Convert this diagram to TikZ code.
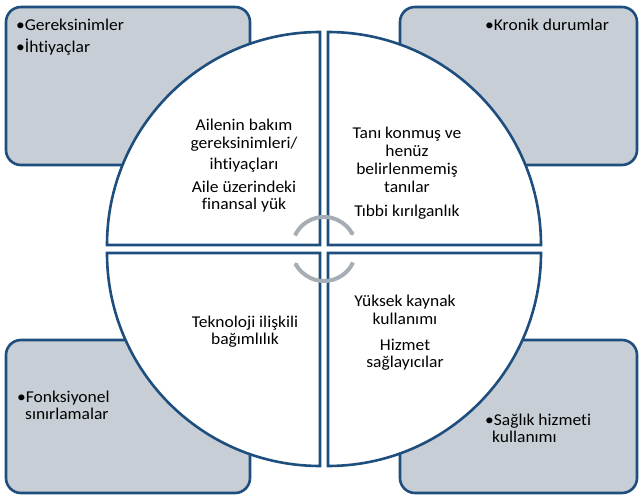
\documentclass[tikz,border=0pt]{standalone}
\usepackage{fontspec}
\setmainfont{Carlito}[FakeStretch=1.06, Ligatures=NoCommon]
\usetikzlibrary{arrows.meta}
\definecolor{rimblue}{RGB}{29,78,125}
\definecolor{cardgray}{RGB}{200,206,213}
\definecolor{cyclegray}{RGB}{166,173,181}

\begin{document}
\begin{tikzpicture}[x=1pt, y=1pt,
		card/.style={draw=rimblue, line width=2.6pt, fill=cardgray, rounded corners=15pt},
		quarter/.style={draw=rimblue, line width=2.6pt, fill=white},
		cyc/.style={draw=cyclegray, line width=4pt, -{Stealth[length=3pt, width=6pt, inset=1pt]}},
		midtext/.style={align=center, anchor=base, inner sep=0pt, font=\fontsize{16.5}{17.8}\selectfont},
		sidetext/.style={align=left, anchor=base west, inner sep=0pt, font=\fontsize{16.5}{17.8}\selectfont}]
			%%%%% START %%%%%
			\useasboundingbox (0,0) rectangle (641,496);
			
			% corner cards
			\draw[card] (6,331) rectangle (250,489);
			\draw[card] (400,331) rectangle (637,489);
			\draw[card] (6,3) rectangle (250,156);
			\draw[card] (400,3) rectangle (637,156);
			
			% four quarters of the disc
			\draw[quarter] (320,251) -- (107,251) arc (180:90:213) -- cycle;
			\draw[quarter] (328,251) -- (328,464) arc (90:0:213) -- cycle;
			\draw[quarter] (320,243) -- (320,30) arc (270:180:213) -- cycle;
			\draw[quarter] (328,243) -- (541,243) arc (0:-90:213) -- cycle;
			
			% cycle arrows in the middle
			\coordinate (hub) at (324,247);
			\draw[cyc] (hub) ++(155:32) arc (155:25:32);
			\draw[cyc] (hub) ++(-25:32) arc (-25:-155:32);
			
			% quarter texts (base = last line)
			\node[midtext] (care) at (244,286) {Ailenin bakım\\gereksinimleri/\\[3pt]ihtiyaçları\\[5pt]Aile üzerindeki\\finansal yük};
			\node[midtext] (diag) at (407,279) {Tanı konmuş ve\\henüz\\belirlenmemiş\\tanılar\\[7pt]Tıbbi kırılganlık};
			\node[midtext] (tech) at (245,151) {Teknoloji ilişkili\\bağımlılık};
			\node[midtext] (use) at (405,128) {Yüksek kaynak\\kullanımı\\[8pt]Hizmet\\sağlayıcılar};
			
			% card texts
			\node[sidetext] (needs) at (16,443) {•Gereksinimler\\[5pt]•İhtiyaçlar};
			\node[sidetext] (chronic) at (485,465) {•Kronik durumlar};
			\node[sidetext] (func) at (17,76) {•Fonksiyonel\\\hspace*{8pt}sınırlamalar};
			\node[sidetext] (health) at (485,53) {•Sağlık hizmeti\\\hspace*{7pt}kullanımı};
			
			%%%%% END %%%%%
		\end{tikzpicture}
\end{document}
